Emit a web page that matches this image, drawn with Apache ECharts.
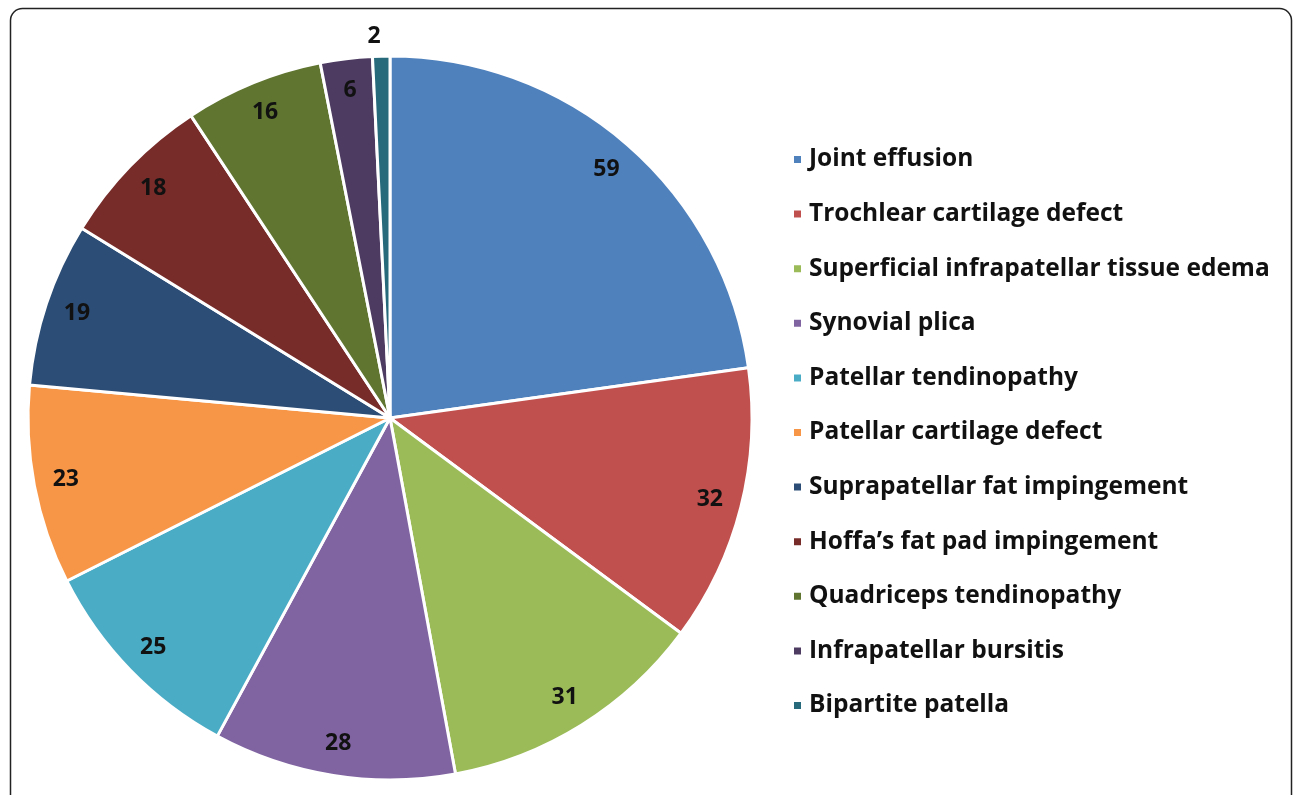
<!DOCTYPE html>
<html>
<head>
<meta charset="utf-8">
<script src="https://cdn.jsdelivr.net/npm/echarts@6/dist/echarts.min.js"></script>
<style>
html,body{margin:0;padding:0;background:#fff;}
#chart{width:1295px;height:795px;}
</style>
</head>
<body>
<div id="chart"></div>
<script>
const categories = [
  "Joint effusion",
  "Trochlear cartilage defect",
  "Superficial infrapatellar tissue edema",
  "Synovial plica",
  "Patellar tendinopathy",
  "Patellar cartilage defect",
  "Suprapatellar fat impingement",
  "Hoffa\u2019s fat pad impingement",
  "Quadriceps tendinopathy",
  "Infrapatellar bursitis",
  "Bipartite patella"
];
const values = [59, 32, 31, 28, 25, 23, 19, 18, 16, 6, 2];
const colors = ["#4F81BD","#C0504D","#9BBB59","#8064A2","#4BACC6","#F79646","#2C4D75","#772C2A","#5F7530","#4D3B62","#276A7C"];

const chart = echarts.init(document.getElementById('chart'));
const FONT = '"Open Sans"';
const mainData = categories.map((c, i) => ({ name: c, value: values[i], itemStyle: { color: colors[i] } }));
const labelData = categories.map((c, i) => {
  const d = { name: c, value: values[i] };
  if (i === categories.length - 1) {
    d.label = { position: 'outside', distanceToLabelLine: 0 };
    d.labelLine = { show: false, length: 20, length2: 0 };
  }
  return d;
});

chart.setOption({
  animation: false,
  graphic: [{
    type: 'rect',
    shape: { x: 10.5, y: 8.5, width: 1281, height: 820, r: 12 },
    style: { fill: null, stroke: '#222', lineWidth: 1.5 },
    silent: true,
    z: -10
  }],
  legend: {
    orient: 'vertical',
    left: 787,
    top: 142,
    data: categories,
    icon: 'rect',
    itemWidth: 9,
    itemHeight: 9,
    itemGap: 29.6,
    selectedMode: false,
    textStyle: { fontFamily: FONT, fontWeight: 'bold', fontSize: 24.5, color: '#111', lineHeight: 24, padding: [0,0,0,2] }
  },
  series: [
    {
      type: 'pie',
      center: [390, 418],
      radius: [0, 362],
      startAngle: 90,
      clockwise: true,
      data: mainData,
      label: { show: false },
      labelLine: { show: false },
      itemStyle: { borderColor: '#fff', borderWidth: 3 },
      silent: true
    },
    {
      type: 'pie',
      center: [390, 418],
      radius: [292, 362],
      startAngle: 90,
      clockwise: true,
      data: labelData,
      silent: true,
      legendHoverLink: false,
      itemStyle: { color: 'rgba(0,0,0,0)', borderWidth: 0 },
      label: { show: true, position: 'inside', formatter: '{c}', fontFamily: FONT, fontWeight: 'bold', fontSize: 23, color: '#111' },
      labelLine: { show: false }
    }
  ]
});
</script>
</body>
</html>
